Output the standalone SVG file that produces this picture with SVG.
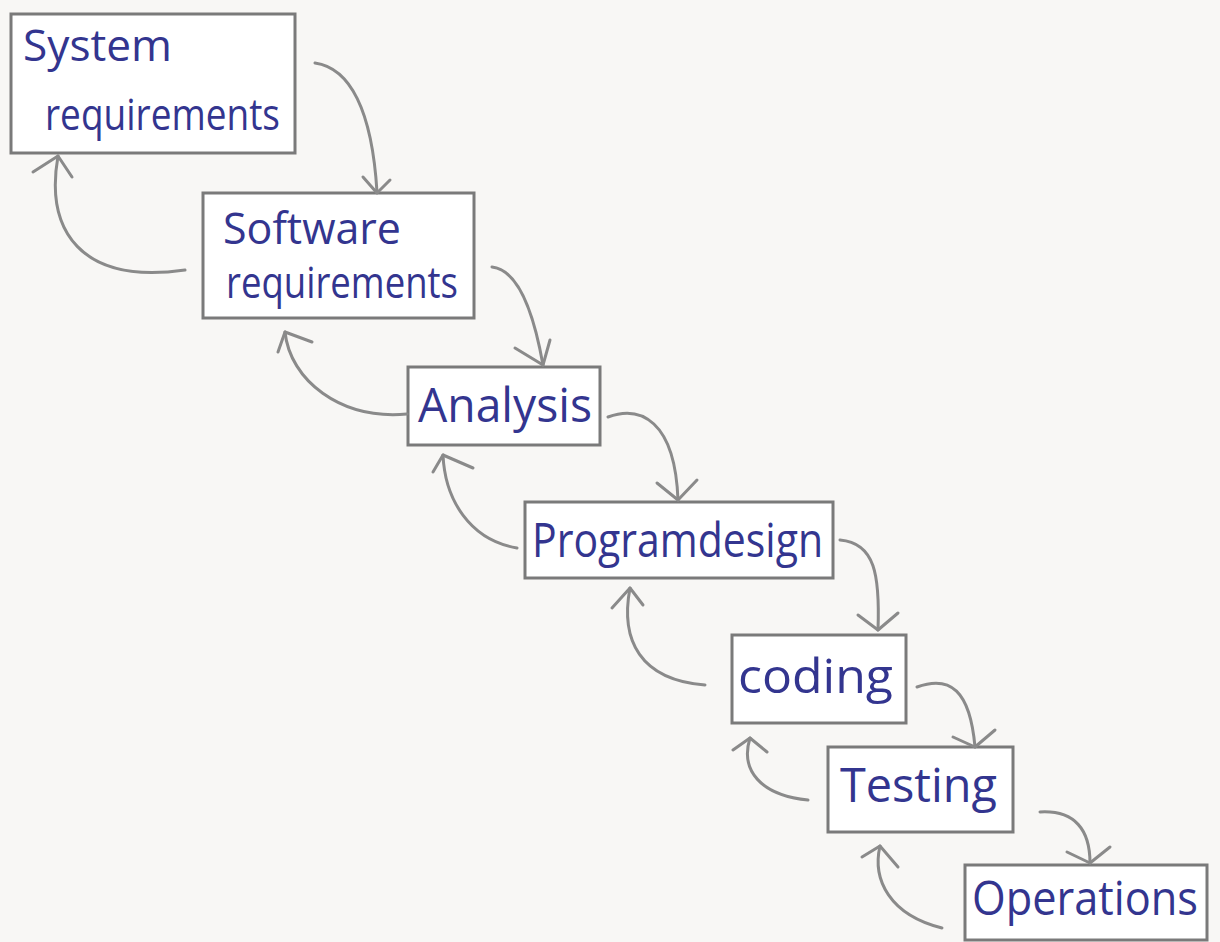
<svg xmlns="http://www.w3.org/2000/svg" width="1220" height="942" viewBox="0 0 1220 942">
<style>
.box{fill:#ffffff;stroke:#7a7a7a;stroke-width:3}
.lbl{font-family:"Open Sans","Liberation Sans",sans-serif;font-size:44px;fill:#33358f}
.big{font-size:48px}
.c{fill:none;stroke:#8a8a8a;stroke-width:3;stroke-linecap:round;stroke-linejoin:round}
</style>
<rect width="1220" height="942" fill="#f8f7f5"/>
<g id="system-requirements">
<rect class="box" x="11" y="14" width="284" height="139"/>
<text class="lbl" x="23" y="61" textLength="149" lengthAdjust="spacingAndGlyphs">System</text>
<text class="lbl" x="45" y="130" textLength="235" lengthAdjust="spacingAndGlyphs">requirements</text>
</g>
<g id="software-requirements">
<rect class="box" x="203" y="193" width="271" height="125"/>
<text class="lbl" x="223" y="244" textLength="178" lengthAdjust="spacingAndGlyphs">Software</text>
<text class="lbl" x="226" y="298" textLength="232" lengthAdjust="spacingAndGlyphs">requirements</text>
</g>
<g id="analysis">
<rect class="box" x="408" y="367" width="192" height="78"/>
<text class="lbl big" x="418" y="422" textLength="174" lengthAdjust="spacingAndGlyphs">Analysis</text>
</g>
<g id="programdesign">
<rect class="box" x="525" y="502" width="308" height="76"/>
<text class="lbl big" x="532" y="557" textLength="291" lengthAdjust="spacingAndGlyphs">Programdesign</text>
</g>
<g id="coding">
<rect class="box" x="732" y="635" width="174" height="88"/>
<text class="lbl big" x="738" y="693" textLength="155" lengthAdjust="spacingAndGlyphs">coding</text>
</g>
<g id="testing">
<rect class="box" x="828" y="747" width="185" height="85"/>
<text class="lbl big" x="840" y="802" textLength="157" lengthAdjust="spacingAndGlyphs">Testing</text>
</g>
<g id="operations">
<rect class="box" x="965" y="865" width="242" height="75"/>
<text class="lbl big" x="972" y="915" textLength="226" lengthAdjust="spacingAndGlyphs">Operations</text>
</g>
<g id="connectors">
<path class="c" d="M315,63 C350,68 372,110 377,192"/>
<path class="c" d="M363,177 L377,193 L390,180"/>
<path class="c" d="M492,267 C520,270 535,320 543,365"/>
<path class="c" d="M515,348 L543,365 L550,340"/>
<path class="c" d="M608,417 C640,405 675,420 678,500"/>
<path class="c" d="M657,483 L678,500 L697,480"/>
<path class="c" d="M840,540 C875,543 880,575 878,630"/>
<path class="c" d="M858,615 L878,630 L898,613"/>
<path class="c" d="M917,687 C950,675 970,690 975,747"/>
<path class="c" d="M953,737 L975,747 L995,730"/>
<path class="c" d="M1040,812 C1075,810 1090,830 1090,863"/>
<path class="c" d="M1067,852 L1090,863 L1110,847"/>
<path class="c" d="M185,270 C80,285 45,230 58,156"/>
<path class="c" d="M33,172 L58,156 L72,177"/>
<path class="c" d="M407,414 C340,420 290,380 285,332"/>
<path class="c" d="M278,352 L285,332 L312,342"/>
<path class="c" d="M517,548 C470,540 445,500 443,455"/>
<path class="c" d="M433,472 L443,455 L473,468"/>
<path class="c" d="M705,685 C640,680 620,640 630,588"/>
<path class="c" d="M612,608 L630,588 L643,605"/>
<path class="c" d="M808,800 C760,795 740,770 750,738"/>
<path class="c" d="M733,750 L750,738 L767,752"/>
<path class="c" d="M942,928 C890,915 872,880 880,846"/>
<path class="c" d="M862,857 L880,846 L898,867"/>
</g>
</svg>
